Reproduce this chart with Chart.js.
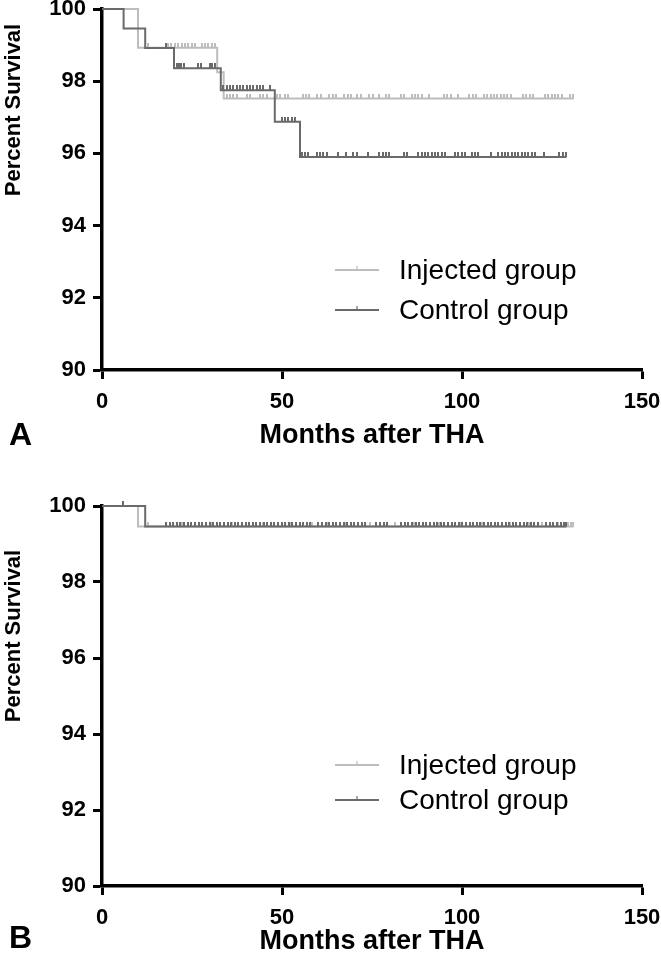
<!DOCTYPE html>
<html><head><meta charset="utf-8">
<script src="https://cdn.jsdelivr.net/npm/chart.js@4.4.1/dist/chart.umd.min.js"></script>
<style>
html,body{margin:0;padding:0;background:#fff;overflow:hidden;width:661px;height:953px;}
#wrap{position:relative;width:661px;height:953px;overflow:hidden;}
canvas{position:absolute;left:0;}
.panel{position:absolute;left:9px;font:bold 32px 'Liberation Sans',Arial,sans-serif;color:#000;line-height:36px;}
</style></head><body>
<div id="wrap">
<canvas id="cA" width="700" height="485" style="top:-15px"></canvas>
<canvas id="cB" width="700" height="500" style="top:470px"></canvas>
<div class="panel" style="top:416px">A</div>
<div class="panel" style="top:919px">B</div>
</div>
<script>
// ---------- data ----------
const seriesLabels = ['Injected group', 'Control group'];
const xTickValues = [0, 50, 100, 150];
const yTickValues = [90, 92, 94, 96, 98, 100];
const xTitle = 'Months after THA';
const yTitle = 'Percent Survival';

// Panel A: Kaplan-Meier steps (months, percent survival)
const injA_months = [0, 10, 32, 33.8, 131];
const injA_surv   = [100, 98.93, 98.25, 97.52, 97.52];
const ctlA_months = [0, 6, 12, 20, 33, 48, 55, 129];
const ctlA_surv   = [100, 99.46, 98.92, 98.36, 97.75, 96.88, 95.9, 95.9];
const injA_censor = [12.9, 18.4, 19.3, 20.2, 21.2, 22.1, 23, 24, 24.9, 25.8, 27.7, 28.6, 29.5, 30.5, 31.4,
  34.6, 35.6, 36.5, 37.4, 40.2, 41.1, 43.9, 44.8, 45.7, 48.5, 49.4, 50.8, 51.8, 55.7, 56.7, 57.6, 59.8, 60.7,
  63.1, 64.1, 65, 67.2, 68.2, 69.1, 70.9, 71.9, 74.3, 75.2, 77, 78.9, 79.8, 83, 83.9, 86, 86.9, 87.9, 88.8,
  90.9, 95, 95.9, 96.9, 99, 102, 103, 103.9, 106.1, 107, 108, 108.9, 109.8, 110.8, 111.7, 112.6, 113.5,
  117, 117.9, 118.9, 119.8, 123.1, 124, 124.9, 125.8, 126.8, 127.7, 130, 130.9];
const ctlA_censor = [17.7, 20.8, 21.4, 22, 22.8, 26.8, 27.4, 30, 30.6, 31.3, 33.7, 34.6, 35.6, 36.5, 37.4,
  38.3, 39.3, 40.2, 41.1, 42, 43, 43.9, 44.8, 46.7, 49.9, 50.8, 51.8, 52.7, 53.6, 55.5, 56.4, 57.3, 59.6,
  60.6, 61.5, 62.4, 65.6, 67.8, 69.8, 70.7, 74, 77, 78, 78.9, 79.8, 83.9, 84.8, 87.9, 88.8, 89.7, 90.6,
  91.6, 92.5, 93.4, 94.4, 95.3, 98.1, 99, 99.9, 100.8, 102.7, 103.6, 104.5, 108, 110, 111, 111.9, 112.8,
  113.8, 114.7, 115.6, 116.6, 117.5, 118.4, 119.4, 120.3, 122.8, 127, 128, 128.9];

// Panel B
const injB_months = [0, 10, 131];
const injB_surv   = [100, 99.46, 99.46];
const ctlB_months = [0, 12, 129];
const ctlB_surv   = [100, 99.46, 99.46];
const injB_censor = [12.9, 22.3, 30.4, 36.2, 44.6, 52.3, 58.4, 62.6, 67.5, 74.5, 81.3, 86.6, 93.5, 99.6,
  105.6, 113.3, 118.6, 122.2, 126.8, 129.5, 130.2, 130.9];
const ctlB_censor = [5.7, 17.8, 18.8, 19.8, 20.8, 21.8, 22.8, 23.8, 24.8, 25.8, 26.9, 27.9, 28.9, 29.9, 30.9,
  31.9, 32.9, 33.9, 34.9, 35.9, 36.9, 37.9, 38.9, 39.9, 40.9, 41.9, 42.9, 43.9, 44.9, 45.9, 46.9, 47.9, 48.9,
  49.9, 50.9, 51.9, 52.9, 53.9, 54.9, 55.9, 56.9, 57.9, 60.1, 61.1, 62.1, 63.1, 64.1, 65.1, 66.1, 67.1, 68.1,
  69.1, 70.1, 71.1, 72.1, 73.1, 76.2, 77.2, 78.2, 79.2, 83.1, 84.1, 85.1, 86.1, 87.1, 88.1, 89.1, 90.1, 91.1,
  92.1, 93.1, 94.1, 95.1, 96.1, 97.1, 98.1, 99.1, 100.1, 101.1, 102.1, 103.1, 104.1, 105.1, 106.1, 107.1,
  108.1, 109.1, 110.1, 111.1, 112.1, 113.1, 114.1, 115.1, 116.1, 117.1, 118.1, 119.1, 120.1, 121.1, 123.4,
  124.4, 125.4, 126.4, 127.4, 128.4, 128.9];

// ---------- styling ----------
const LIGHT = '#bdbdbd';
const DARK = '#6a6a6a';
const FONT = "'Liberation Sans', Arial, Helvetica, sans-serif";
Chart.defaults.font.family = FONT;
Chart.defaults.color = '#000';

function tickImage(color) {
  const c = document.createElement('canvas');
  c.width = 2; c.height = 10;
  const g = c.getContext('2d');
  g.fillStyle = color;
  g.fillRect(0, 0, 2, 5);
  return c;
}
function survAt(ms, ss, t) {
  let v = ss[0];
  for (let i = 0; i < ms.length; i++) { if (ms[i] <= t) v = ss[i]; }
  return v;
}
function pts(ms, ss) { return ms.map((m, i) => ({x: m, y: ss[i]})); }
function censorPts(c, ms, ss) { return c.map(t => ({x: t, y: survAt(ms, ss, t)})); }

const kmLegend = {
  id: 'kmLegend',
  afterDraw(chart, args, opts) {
    const ctx = chart.ctx;
    ctx.save();
    opts.items.forEach(it => {
      ctx.strokeStyle = it.color;
      ctx.lineWidth = 2;
      ctx.beginPath(); ctx.moveTo(opts.x0, it.y); ctx.lineTo(opts.x1, it.y); ctx.stroke();
      ctx.lineWidth = 1.2;
      const mx = (opts.x0 + opts.x1) / 2;
      ctx.beginPath(); ctx.moveTo(mx, it.y); ctx.lineTo(mx, it.y - 4); ctx.stroke();
      ctx.fillStyle = '#000';
      ctx.font = '28px ' + FONT;
      ctx.textBaseline = 'middle';
      ctx.textAlign = 'left';
      ctx.fillText(it.label, opts.tx, it.y + 1);
    });
    // y-axis title (placed like the reference, above the axis centre)
    ctx.translate(opts.yTitleX, opts.yTitleY);
    ctx.rotate(-Math.PI / 2);
    ctx.font = 'bold 22px ' + FONT;
    ctx.textAlign = 'center';
    ctx.textBaseline = 'middle';
    ctx.fillStyle = '#000';
    ctx.fillText(yTitle, 0, 0);
    ctx.restore();
  }
};

function makeChart(id, d, cfg) {
  const datasets = [
    {label: seriesLabels[1], data: pts(d.cm, d.cs), borderColor: DARK, borderWidth: 2, stepped: true,
     pointRadius: 0, fill: false, order: 1, clip: false},
    {label: seriesLabels[1] + ' censored', data: censorPts(d.cc, d.cm, d.cs), showLine: false,
     pointStyle: tickImage(DARK), pointRadius: 5, order: 0, clip: false},
    {label: seriesLabels[0], data: pts(d.im, d.is), borderColor: LIGHT, borderWidth: 2, stepped: true,
     pointRadius: 0, fill: false, order: 3, clip: false},
    {label: seriesLabels[0] + ' censored', data: censorPts(d.ic, d.im, d.is), showLine: false,
     pointStyle: tickImage(LIGHT), pointRadius: 5, order: 2, clip: false}
  ];
  return new Chart(document.getElementById(id), {
    type: 'line',
    data: {datasets},
    plugins: [kmLegend],
    options: {
      responsive: false,
      animation: false,
      devicePixelRatio: 1,
      layout: {autoPadding: false, padding: {left: 0, top: cfg.top, right: 58, bottom: 0}},
      plugins: {
        legend: {display: false},
        tooltip: {enabled: false},
        kmLegend: {x0: 335, x1: 379, tx: 399, yTitleX: 14, yTitleY: cfg.yTitleY,
          items: [{label: seriesLabels[0], color: LIGHT, y: cfg.legY[0]},
                  {label: seriesLabels[1], color: DARK, y: cfg.legY[1]}]}
      },
      scales: {
        x: {
          type: 'linear', min: 0, max: 150,
          afterBuildTicks: s => { s.ticks = xTickValues.map(v => ({value: v})); },
          afterFit: s => { s.height = cfg.xh; },
          grid: {drawOnChartArea: false, drawTicks: true, tickLength: 9, tickWidth: 3, tickColor: '#000'},
          border: {display: true, color: '#000', width: 3.5},
          ticks: {font: {size: 22, weight: 'bold'}, padding: 10, color: '#000', maxRotation: 0},
          title: {display: true, text: xTitle, font: {size: 27, weight: 'bold'}, color: '#000',
                  padding: {top: 0, bottom: cfg.tpad}}
        },
        y: {
          type: 'linear', min: 90, max: 100,
          afterBuildTicks: s => { s.ticks = yTickValues.map(v => ({value: v})); },
          afterFit: s => { s.width = 102; },
          grid: {drawOnChartArea: false, drawTicks: true, tickLength: 9, tickWidth: 3, tickColor: '#000'},
          border: {display: true, color: '#000', width: 3.5},
          ticks: {font: {size: 22, weight: 'bold'}, padding: 7, color: '#000'},
          title: {display: false}
        }
      }
    }
  });
}

makeChart('cA', {im: injA_months, is: injA_surv, ic: injA_censor, cm: ctlA_months, cs: ctlA_surv, cc: ctlA_censor},
  {top: 24, xh: 100, tpad: 18, legY: [285, 325], yTitleY: 125});
makeChart('cB', {im: injB_months, is: injB_surv, ic: injB_censor, cm: ctlB_months, cs: ctlB_surv, cc: ctlB_censor},
  {top: 36, xh: 84, tpad: 12, legY: [295, 330], yTitleY: 166});
</script>
</body></html>
